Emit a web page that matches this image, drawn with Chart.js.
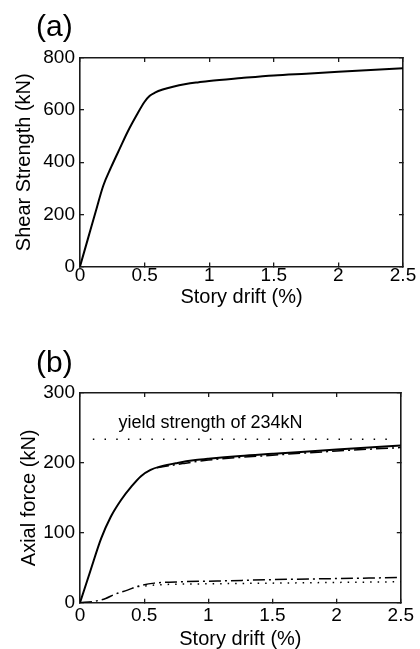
<!DOCTYPE html>
<html>
<head>
<meta charset="utf-8">
<script src="https://cdn.jsdelivr.net/npm/chart.js@4"></script>
<style>
    html, body { margin: 0; padding: 0; background: #fff; overflow: hidden; }
    #wrapA { position: absolute; left: 0; top: 0; width: 420px; height: 325px; }
    #wrapB { position: absolute; left: 0; top: 325px; width: 420px; height: 330px; }
</style>
</head>
<body>
<div id="wrapA"><canvas id="chartA" width="420" height="325"></canvas></div>
<div id="wrapB"><canvas id="chartB" width="420" height="330"></canvas></div>
<script>
// tick labels
const driftTicks = [0, 0.5, 1, 1.5, 2, 2.5];
const shearTicks = [0, 200, 400, 600, 800];
const axialTicks = [0, 100, 200, 300];

// (a) shear strength vs story drift
const driftA = [0, 0.06, 0.12, 0.18, 0.24, 0.31, 0.37, 0.44, 0.50, 0.54, 0.58, 0.64, 0.72, 0.82, 0.92, 1.0, 1.25, 1.5, 1.75, 2.0, 2.25, 2.5];
const shearA = [0, 104, 208, 310, 380, 455, 518, 582, 632, 655, 667, 679, 690, 700, 707, 712, 723, 733, 740, 747, 754, 761];

// (b) axial force vs story drift
const driftB = [0, 0.08, 0.165, 0.24, 0.32, 0.40, 0.475, 0.55, 0.63, 0.76, 0.90, 1.0, 1.25, 1.5, 1.75, 2.0, 2.25, 2.5];
const axialTotal = [0, 45, 92, 123, 147, 166, 181, 190, 195, 200, 204, 206, 210, 213, 216, 219, 222, 225];
const driftAlt = [0.6, 0.8, 1.0, 1.5, 2.0, 2.5];
const axialAlt = [193, 199, 204, 211, 217, 222];
const driftLow = [0, 0.11, 0.2, 0.27, 0.37, 0.46, 0.58, 0.8, 1.07, 1.5, 2.0, 2.5];
const axialLow = [0, 2, 6, 12, 18, 24, 28, 30, 31, 33, 34.5, 36];
const driftLow2 = [0.45, 0.6, 1.0, 1.5, 2.0, 2.5];
const axialLow2 = [23, 25.5, 27, 28, 29, 30];
const yieldDrift = [0.1, 2.45];
const yieldForce = [234, 234];

const FONT = '"Liberation Sans", Arial, Helvetica, sans-serif';
const INK = '#000';

function pts(xs, ys) {
    return xs.map((x, i) => ({ x: x, y: ys[i] }));
}

function line(xs, ys, width, dash) {
    return {
        data: pts(xs, ys),
        borderColor: INK,
        borderWidth: width,
        borderDash: dash || [],
        pointRadius: 0,
        cubicInterpolationMode: 'monotone',
        fill: false
    };
}

// panel label "(a)"/"(b)" and in-plot note
const panelText = {
    id: 'panelText',
    afterDraw(chart, args, opts) {
        const ctx = chart.ctx;
        ctx.save();
        ctx.fillStyle = INK;
        ctx.textBaseline = 'alphabetic';
        ctx.textAlign = 'left';
        ctx.font = '30px ' + FONT;
        ctx.fillText(opts.label, 36, opts.labelY);
        if (opts.note) {
            ctx.font = '18px ' + FONT;
            const x = chart.scales.x.getPixelForValue(opts.note.x);
            const y = chart.scales.y.getPixelForValue(opts.note.y);
            ctx.fillText(opts.note.text, x, y);
        }
        ctx.restore();
    }
};

function makeScales(cfg) {
    const border = { display: true, color: '#1a1a1a', width: 1.6 };
    const grid = { drawOnChartArea: false, tickLength: -4, color: '#1a1a1a', lineWidth: 1.3 };
    const tickFont = { family: FONT, size: 19 };
    const titleFont = { family: FONT, size: 20 };
    const setTicks = list => s => { s.ticks = list.map(v => ({ value: v })); };
    return {
        x: {
            type: 'linear', position: 'bottom', min: 0, max: 2.5,
            border: border, grid: grid,
            afterBuildTicks: setTicks(driftTicks),
            afterFit: s => { s.height = cfg.xHeight; },
            ticks: { color: INK, font: tickFont, padding: cfg.xTickPad, maxRotation: 0, autoSkip: false, callback: v => String(v) },
            title: { display: true, text: 'Story drift (%)', color: INK, font: titleFont, padding: { top: 0, bottom: cfg.xTitlePad } }
        },
        x2: {
            type: 'linear', position: 'top', min: 0, max: 2.5,
            border: border, grid: grid,
            afterBuildTicks: setTicks(driftTicks),
            afterFit: s => { s.height = 0; },
            ticks: { display: false }
        },
        y: {
            type: 'linear', position: 'left', min: 0, max: cfg.yMax,
            border: border, grid: grid,
            afterBuildTicks: setTicks(cfg.yTicks),
            afterFit: s => { s.width = 80; },
            ticks: { color: INK, font: tickFont, padding: 9, callback: v => String(v) },
            title: { display: true, text: cfg.yTitle, color: INK, font: titleFont, padding: { top: cfg.yTitlePad, bottom: 0 } }
        },
        y2: {
            type: 'linear', position: 'right', min: 0, max: cfg.yMax,
            border: border, grid: grid,
            afterBuildTicks: setTicks(cfg.yTicks),
            afterFit: s => { s.width = 0; },
            ticks: { display: false }
        }
    };
}

Chart.defaults.font.family = FONT;

const chartA = new Chart(document.getElementById('chartA').getContext('2d'), {
    type: 'line',
    data: {
        datasets: [line(driftA, shearA, 2)]
    },
    options: {
        responsive: false,
        animation: false,
        devicePixelRatio: 1,
        layout: { padding: { top: 58, right: 17, left: 0, bottom: 0 } },
        scales: makeScales({
            yMax: 800, yTicks: shearTicks, yTitle: 'Shear Strength (kN)', yTitlePad: 12,
            xHeight: 58.5, xTickPad: 2, xTitlePad: 15.5
        }),
        plugins: {
            legend: { display: false },
            tooltip: { enabled: false },
            panelText: { label: '(a)', labelY: 35.7 }
        }
    },
    plugins: [panelText]
});

const chartB = new Chart(document.getElementById('chartB').getContext('2d'), {
    type: 'line',
    data: {
        datasets: [
            line(yieldDrift, yieldForce, 1.5, [1.5, 10.2]),
            line(driftB, axialTotal, 2),
            line(driftAlt, axialAlt, 1.5, [12, 4, 2, 4]),
            line(driftLow, axialLow, 1.5, [12, 4, 2, 4]),
            line(driftLow2, axialLow2, 1.5, [1.5, 6])
        ]
    },
    options: {
        responsive: false,
        animation: false,
        devicePixelRatio: 1,
        layout: { padding: { top: 68, right: 17, left: 0, bottom: 0 } },
        scales: makeScales({
            yMax: 300, yTicks: axialTicks, yTitle: 'Axial force (kN)', yTitlePad: 17,
            xHeight: 52.3, xTickPad: 6, xTitlePad: 4
        }),
        plugins: {
            legend: { display: false },
            tooltip: { enabled: false },
            panelText: { label: '(b)', labelY: 46.7, note: { x: 0.30, y: 250, text: 'yield strength of 234kN' } }
        }
    },
    plugins: [panelText]
});
</script>
</body>
</html>
